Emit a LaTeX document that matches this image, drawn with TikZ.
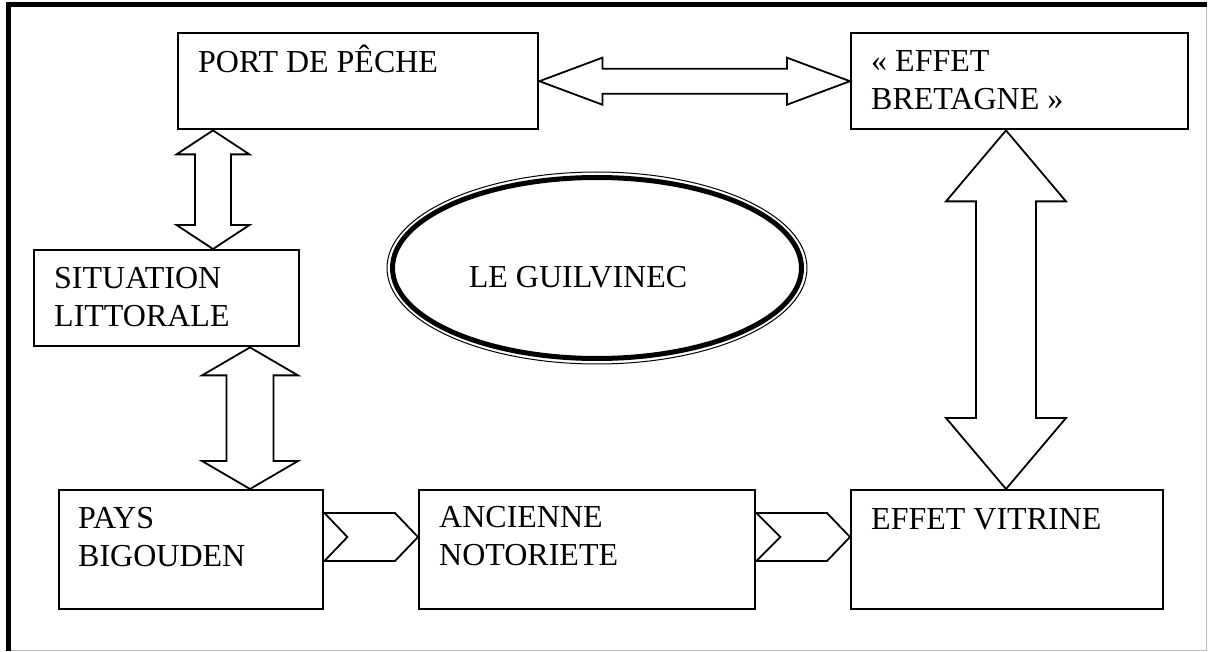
\documentclass[tikz,border=0pt]{standalone}
\usepackage{fontspec}
\setmainfont{Liberation Serif}
\usetikzlibrary{calc, positioning, shapes.geometric}
\definecolor{framegray}{RGB}{190,190,190}

% block arrows: tips, head half width, shaft half width, head length
\newcommand{\vdblarrow}[5]{%
  \draw[blockarrow] (#1) -- ++(#3,#5) -- ++(#4-#3,0) -- ($(#2)+(#4,-#5)$) -- ++(#3-#4,0) -- (#2)
    -- ++(-#3,-#5) -- ++(#3-#4,0) -- ($(#1)+(-#4,#5)$) -- ++(#4-#3,0) -- cycle;}
\newcommand{\hdblarrow}[5]{%
  \draw[blockarrow] (#1) -- ++(#5,-#3) -- ++(0,#3-#4) -- ($(#2)+(-#5,-#4)$) -- ++(0,#4-#3) -- (#2)
    -- ++(-#5,#3) -- ++(0,#4-#3) -- ($(#1)+(#5,#4)$) -- ++(0,#3-#4) -- cycle;}
% chevron: tail, tip, half height, notch depth, head length
\newcommand{\chevronarrow}[5]{%
  \draw[blockarrow] ($(#1)+(0,-#3)$) -- ($(#2)+(-#5,-#3)$) -- (#2) -- ($(#2)+(-#5,#3)$)
    -- ($(#1)+(0,#3)$) -- ($(#1)+(#4,0)$) -- cycle;}

\begin{document}
\begin{tikzpicture}[x=1pt, y=-1pt,
    box/.style={draw, line width=2.4pt, inner sep=0pt, anchor=north west},
    lbl/.style={font=\fontsize{32}{38}\selectfont, inner sep=0pt, align=left, anchor=base west},
    blockarrow/.style={line width=1.8pt, line join=miter}]
    \useasboundingbox (0,0) rectangle (1208,652);

    % Frame
    \draw[framegray, line width=1pt] (8,650.5) -- (1206.5,650.5) -- (1206.5,5);
    \draw[line width=5pt] (8,651) -- (8,5) -- (1207,5);

    % Boxes
    \node[box, minimum width=360pt, minimum height=96pt] (port) at (177,32) {};
    \node[box, minimum width=337pt, minimum height=96pt] (bret) at (850,32) {};
    \node[box, minimum width=265pt, minimum height=96pt] (sit) at (33,249) {};
    \node[box, minimum width=264pt, minimum height=119pt] (pays) at (58,489) {};
    \node[box, minimum width=336pt, minimum height=119pt] (anc) at (418,489) {};
    \node[box, minimum width=312pt, minimum height=119pt] (vit) at (850,489) {};

    % Box texts (base = last line)
    \node[lbl] (portlbl) at ([xshift=21pt,yshift=-41pt]port.north west) {PORT DE PÊCHE};
    \node[lbl] (bretlbl) at ([xshift=21pt,yshift=-78pt]bret.north west) {« EFFET\\BRETAGNE »};
    \node[lbl] (sitlbl) at ([xshift=21pt,yshift=-78pt]sit.north west) {SITUATION\\LITTORALE};
    \node[lbl] (payslbl) at ([xshift=20pt,yshift=-77pt]pays.north west) {PAYS\\BIGOUDEN};
    \node[lbl] (anclbl) at ([xshift=21pt,yshift=-76pt]anc.north west) {ANCIENNE\\NOTORIETE};
    \node[lbl] (vitlbl) at ([xshift=21pt,yshift=-40pt]vit.north west) {EFFET VITRINE};

    % Centre
    \node[ellipse, draw, line width=1pt, minimum width=420pt, minimum height=192pt] (town) at (597,268) {};
    \draw[line width=5pt] (town.center) ellipse [x radius=204.5pt, y radius=90.5pt];
    \node[lbl, anchor=base] (townlbl) at ([xshift=-19pt,yshift=-20pt]town.center) {LE GUILVINEC};

    % Arrow ends
    \coordinate (p1) at ([xshift=36pt]port.south west);
    \coordinate (s1) at ([xshift=180pt]sit.north west);
    \coordinate (s2) at ([xshift=217pt]sit.south west);
    \coordinate (b2) at ([xshift=192pt]pays.north west);
    \coordinate (e1) at ([xshift=156pt]bret.south west);
    \coordinate (v1) at ([xshift=156pt]vit.north west);
    \coordinate (c1) at ([yshift=-48pt]pays.north east);
    \coordinate (c2) at ([yshift=-48pt]anc.north west);
    \coordinate (c3) at ([yshift=-48pt]anc.north east);
    \coordinate (c4) at ([yshift=-48pt]vit.north west);

    % Double arrows
    \hdblarrow{port.east}{bret.west}{23.5}{12.5}{63}
    \vdblarrow{p1}{s1}{36.5}{18}{24}
    \vdblarrow{s2}{b2}{48}{23.5}{28}
    \vdblarrow{e1}{v1}{60}{30}{71}

    % Chevrons
    \chevronarrow{c1}{c2}{24}{23}{23}
    \chevronarrow{c3}{c4}{24}{24}{23}
\end{tikzpicture}
\end{document}
